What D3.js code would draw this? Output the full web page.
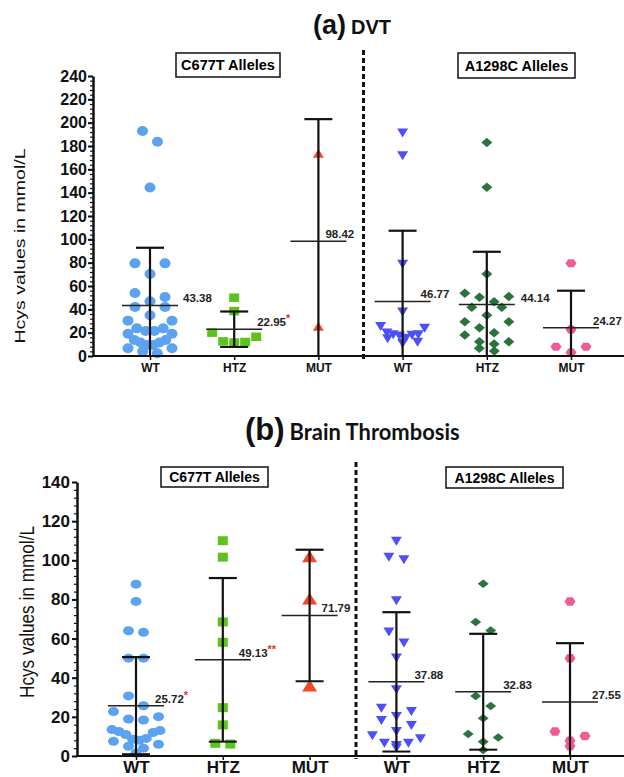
<!DOCTYPE html>
<html>
<head>
<meta charset="utf-8">
<script src="https://cdn.jsdelivr.net/npm/d3@7"></script>
<style>
  body { margin: 0; background: #fff; }
</style>
</head>
<body>
<svg id="chart" width="624" height="777" font-family='"Liberation Sans", Arial, sans-serif'></svg>
<script>
const groups = ['C677T WT', 'C677T HTZ', 'C677T MUT', 'A1298C WT', 'A1298C HTZ', 'A1298C MUT'];
const xLabels = ['WT', 'HTZ', 'MUT', 'WT', 'HTZ', 'MUT'];
const boxLabels = ['C677T Alleles', 'A1298C Alleles'];
const yTitle = 'Hcys values in mmol/L';

// (a) DVT
const dvtTicks = [0, 20, 40, 60, 80, 100, 120, 140, 160, 180, 200, 220, 240];
const dvtWT = [192.8, 183.6, 144.5, 79.4, 79.4, 70.3, 54, 50.6, 46.9, 42, 42, 34.9, 30.3, 30.3,
  23.7, 23.7, 21.4, 21.4, 19, 19, 13.7, 13.7, 11.5, 11.5, 9.4, 9.4, 6.6, 6.6, 4, 2.3];
const dvtHTZ = [50, 38.5, 20, 16.5, 12.5, 12, 11.5];
const dvtMUT = [172.5, 24.3];
const dvtWT2 = [192.5, 173, 80, 39, 26.5, 25, 21, 19.5, 19.5, 19, 18.5, 16.5, 16, 13, 12];
const dvtHTZ2 = [183, 144.6, 70.3, 53.7, 50.9, 50.3, 46.6, 41.7, 41.7, 34.9, 29.4, 29.4, 24.3,
  20, 18, 12.3, 12.3, 10.3, 6.6, 4.3];
const dvtMUT2 = [79.4, 22.8, 8, 8, 2.9];
const dvtMeans = [43.38, 22.95, 98.42, 46.77, 44.14, 24.27];
const dvtSD = [49.4, 15.2, 104.6, 60.6, 45.2, 31.7];
const dvtStars = ['', '*', '', '', '', ''];

// (b) Brain Thrombosis
const btTicks = [0, 20, 40, 60, 80, 100, 120, 140];
const btWT = [87.8, 79, 64, 63.2, 50, 50, 30.7, 25.7, 22.7, 20.1, 18.9, 18.4, 13.5, 13, 12.5, 12,
  11, 9, 8.5, 8, 7.5, 6, 5, 4, 1.5];
const btHTZ = [110, 101.6, 68.5, 58.1, 24.7, 15.9, 6.5, 6.1];
const btMUT = [101, 79.5, 35];
const btWT2 = [110.5, 102.3, 101, 80.1, 64.1, 58.5, 50.8, 34.6, 25.2, 23.5, 21, 18.9, 16.4, 13.3,
  11.1, 9.6, 7.3, 7.3, 6.1, 4.8];
const btHTZ2 = [88, 68.5, 64.1, 30.7, 25.6, 19.3, 11.3, 9.5, 7.3, 3.1];
const btMUT2 = [79, 50, 12.5, 10.2, 7.8, 5.1];
const btMeans = [25.72, 49.13, 71.79, 37.88, 32.83, 27.55];
const btSD = [24.8, 41.8, 33.6, 35.6, 29.6, 30.1];
const btStars = ['*', '**', '', '', '', ''];

const markers = [
  { type: 'circle', color: '#5ba3f1' },
  { type: 'square', color: '#5cc21c' },
  { type: 'triangle', color: '#f24a28' },
  { type: 'triangleDown', color: '#4d4ff7' },
  { type: 'diamond', color: '#2b733d' },
  { type: 'hex', color: '#ef5b96' }
];

const svg = d3.select('#chart');
const sans = '"Liberation Sans", Arial, sans-serif';

function shape(type, w, h) {
  const rx = w / 2, ry = h / 2;
  switch (type) {
    case 'circle':
      return `M${-rx},0a${rx},${ry} 0 1,0 ${w},0a${rx},${ry} 0 1,0 ${-w},0Z`;
    case 'square':
      return `M${-rx},${-ry}h${w}v${h}h${-w}Z`;
    case 'triangle':
      return `M0,${-2 * h / 3}L${rx},${h / 3}L${-rx},${h / 3}Z`;
    case 'triangleDown':
      return `M0,${2 * h / 3}L${rx},${-h / 3}L${-rx},${-h / 3}Z`;
    case 'diamond':
      return `M0,${-ry}L${rx},0L0,${ry}L${-rx},0Z`;
    default:
      return `M${-rx},0L${-rx / 2},${-ry}L${rx / 2},${-ry}L${rx},0L${rx / 2},${ry}L${-rx / 2},${ry}Z`;
  }
}

// Prism-like scatter: values close in y share a row, spread outside-in
function swarm(values, y, rowH, step, halfMax) {
  const sorted = values.slice().sort((a, b) => b - a);
  const rows = [];
  sorted.forEach(v => {
    const last = rows[rows.length - 1];
    if (last && y(v) - y(last[0]) < rowH) last.push(v);
    else rows.push([v]);
  });
  const out = [];
  rows.forEach(row => {
    const n = row.length;
    const s = n > 1 ? Math.min(step, 2 * halfMax / (n - 1)) : 0;
    const order = [];
    for (let lo = 0, hi = n - 1; lo <= hi; lo++, hi--) {
      order.push(lo);
      if (hi !== lo) order.push(hi);
    }
    row.forEach((v, i) => out.push({ v, dx: (order[i] - (n - 1) / 2) * s }));
  });
  return out;
}

function drawPanel(p) {
  const g = svg.append('g');
  const y = d3.scaleLinear().domain([0, d3.max(p.ticks)]).range([p.bottom, p.top]);
  const x = d3.scalePoint().domain(groups).range(p.centers);

  // title
  const t = g.append('text').attr('x', p.titleX).attr('y', p.titleY)
    .attr('font-weight', 'bold').attr('fill', '#111');
  t.append('tspan').attr('font-size', p.tagSize).text(p.tag);
  const nm = t.append('tspan').attr('dx', 5).attr('font-size', p.nameSize)
    .attr('font-family', p.nameFont).text(p.name);
  if (p.nameLen) nm.attr('textLength', p.nameLen).attr('lengthAdjust', 'spacingAndGlyphs');

  // allele boxes
  p.boxes.forEach((b, i) => {
    g.append('rect').attr('x', b.x).attr('y', b.y).attr('width', b.w).attr('height', b.h)
      .attr('fill', '#fff').attr('stroke', '#111').attr('stroke-width', 1.5);
    g.append('text').attr('x', b.x + b.w / 2).attr('y', b.y + b.h / 2)
      .attr('dy', '0.36em').attr('text-anchor', 'middle')
      .attr('font-size', p.boxFont).attr('font-weight', 'bold').text(boxLabels[i]);
  });

  // divider
  const divX = (x(groups[2]) + x(groups[3])) / 2 + 3;
  g.append('line').attr('x1', divX).attr('x2', divX).attr('y1', p.divTop).attr('y2', p.bottom + 3)
    .attr('stroke', '#111').attr('stroke-width', 3).attr('stroke-dasharray', '5 3');

  // points
  p.series.forEach((vals, i) => {
    const m = markers[i];
    const pts = swarm(vals, y, p.rowH, p.step, p.halfMax);
    g.append('g').selectAll('path').data(pts).join('path')
      .attr('transform', d => `translate(${x(groups[i]) + d.dx},${y(d.v)})`)
      .attr('d', shape(m.type, p.sizes[i][0], p.sizes[i][1]))
      .attr('fill', m.color);
  });

  // mean and SD
  groups.forEach((key, i) => {
    const cx = x(key);
    const mean = p.means[i], sd = p.sds[i];
    const lo = mean - sd;
    g.append('line').attr('x1', cx).attr('x2', cx)
      .attr('y1', y(mean + sd)).attr('y2', y(Math.max(0, lo)))
      .attr('stroke', '#111').attr('stroke-width', 2.2);
    g.append('line').attr('x1', cx - 14).attr('x2', cx + 14)
      .attr('y1', y(mean + sd)).attr('y2', y(mean + sd))
      .attr('stroke', '#111').attr('stroke-width', 2.2);
    if (lo > 0) {
      g.append('line').attr('x1', cx - 14).attr('x2', cx + 14)
        .attr('y1', y(lo)).attr('y2', y(lo))
        .attr('stroke', '#111').attr('stroke-width', 2);
    }
    g.append('line').attr('x1', cx - 28).attr('x2', cx + 28)
      .attr('y1', y(mean)).attr('y2', y(mean))
      .attr('stroke', '#222').attr('stroke-width', 1.5);
    const lbl = g.append('text').attr('x', cx + p.labelDx[i]).attr('y', y(mean) - 3)
      .attr('font-size', 11.5).attr('font-weight', 'bold').attr('fill', '#222')
      .text(d3.format('.2f')(mean));
    if (p.stars[i]) {
      lbl.append('tspan').attr('dy', -4).attr('font-size', 11)
        .attr('fill', '#e8322a').text(p.stars[i]);
    }
  });

  // y axis
  const minor = d3.range(0, d3.max(p.ticks) + 0.1, 4);
  g.append('g').attr('transform', `translate(${p.left},0)`)
    .call(d3.axisLeft(y).tickValues(minor).tickSize(3).tickFormat(''))
    .call(a => a.select('.domain').remove())
    .selectAll('line').attr('stroke', '#111').attr('stroke-width', 1.2);
  const ya = g.append('g').attr('transform', `translate(${p.left},0)`)
    .call(d3.axisLeft(y).tickValues(p.ticks).tickSize(5).tickSizeOuter(0).tickPadding(p.tickPad));
  ya.select('.domain').attr('stroke', '#111').attr('stroke-width', 2.5);
  ya.selectAll('.tick line').attr('stroke', '#111').attr('stroke-width', 2);
  ya.selectAll('text').attr('font-size', p.tickFont).attr('font-weight', 'bold')
    .attr('font-family', sans).attr('fill', '#111');

  // x axis
  const xa = g.append('g').attr('transform', `translate(0,${p.bottom})`)
    .call(d3.axisBottom(x).tickSize(4).tickPadding(p.xPad).tickFormat((d, i) => xLabels[i]));
  xa.select('.domain').remove();
  xa.selectAll('.tick line').attr('stroke', '#111').attr('stroke-width', 1.5);
  xa.selectAll('text').attr('font-size', p.xFont).attr('font-weight', 'bold')
    .attr('font-family', sans).attr('fill', '#111');
  g.append('line').attr('x1', p.left - 1).attr('x2', 624).attr('y1', p.bottom).attr('y2', p.bottom)
    .attr('stroke', '#111').attr('stroke-width', 2.2);

  // y title
  g.append('text')
    .attr('transform', `translate(${p.yTitleX},${p.yTitleY}) rotate(-90)`)
    .attr('text-anchor', 'middle').attr('dy', '0.35em')
    .attr('font-size', p.yTitleSize).attr('fill', '#111')
    .attr('textLength', p.yTitleLen).attr('lengthAdjust', 'spacingAndGlyphs')
    .text(yTitle);
}

drawPanel({
  series: [dvtWT, dvtHTZ, dvtMUT, dvtWT2, dvtHTZ2, dvtMUT2],
  means: dvtMeans, sds: dvtSD, stars: dvtStars, ticks: dvtTicks,
  top: 76, bottom: 356, left: 93, centers: [150, 571],
  tag: '(a)', name: 'DVT', tagSize: 27, nameSize: 20, nameFont: sans,
  titleX: 313, titleY: 34,
  boxes: [{ x: 176, y: 53, w: 104, h: 24 }, { x: 458, y: 53, w: 117, h: 25 }], boxFont: 14.5,
  divTop: 50, rowH: 12, step: 15, halfMax: 22,
  sizes: [[11, 10], [10, 8.5], [11, 9], [11, 9], [11, 9.5], [11, 8]],
  labelDx: [33, 23, 7, 18, 34, 22], tickPad: 1, tickFont: 16, xFont: 12, xPad: 3,
  yTitleX: 20, yTitleY: 246, yTitleSize: 15, yTitleLen: 195
});

drawPanel({
  series: [btWT, btHTZ, btMUT, btWT2, btHTZ2, btMUT2],
  means: btMeans, sds: btSD, stars: btStars, ticks: btTicks,
  top: 482, bottom: 756, left: 77, centers: [136, 570],
  tag: '(b)', name: 'Brain Thrombosis', tagSize: 31, nameSize: 23, nameFont: 'Lato, "Open Sans", sans-serif',
  nameLen: 170, titleX: 245, titleY: 440,
  boxes: [{ x: 161, y: 467, w: 107, h: 20 }, { x: 446, y: 467, w: 117, h: 21 }], boxFont: 14,
  divTop: 462, rowH: 11, step: 15, halfMax: 24,
  sizes: [[11, 9], [10, 9], [15, 12], [11, 9], [11, 8.5], [11, 8.5]],
  labelDx: [19, 16, 12, 18, 20, 22], tickPad: 2, tickFont: 17, xFont: 17, xPad: 1,
  yTitleX: 27, yTitleY: 612, yTitleSize: 19.5, yTitleLen: 172
});
</script>
</body>
</html>
